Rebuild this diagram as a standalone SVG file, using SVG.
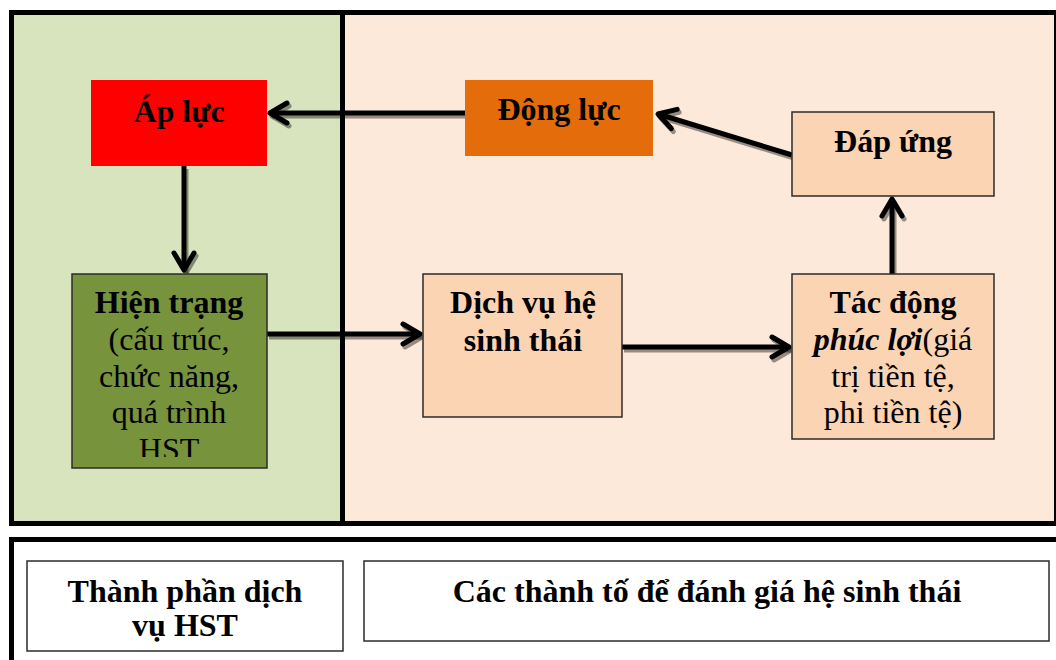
<svg xmlns="http://www.w3.org/2000/svg" width="1056" height="660" viewBox="0 0 1056 660">
<style>
.t{font-family:"Liberation Serif","Times New Roman",serif;font-size:32px;fill:#000;text-anchor:middle}
.b{font-weight:bold}
.node{stroke:#2b2b2b;stroke-width:1.5}
.cn{fill:none;stroke:#000;stroke-width:5;stroke-linecap:butt}
.sh{fill:none;stroke:#000;stroke-opacity:0.4;stroke-width:5}
</style>
<defs>
<marker id="ah" markerUnits="userSpaceOnUse" viewBox="-22 -14 26 28" markerWidth="26" markerHeight="28" refX="0" refY="0" orient="auto" overflow="visible">
<path d="M-17,-10 L0,0 L-17,10" fill="none" stroke="#000" stroke-width="5" stroke-linecap="round" stroke-linejoin="round"/>
</marker>
<marker id="ahs" markerUnits="userSpaceOnUse" viewBox="-22 -14 26 28" markerWidth="26" markerHeight="28" refX="0" refY="0" orient="auto" overflow="visible">
<path d="M-17,-10 L0,0 L-17,10" fill="none" stroke="#000" stroke-opacity="0.4" stroke-width="5" stroke-linecap="round" stroke-linejoin="round"/>
</marker>
<clipPath id="clipHT"><rect x="72" y="274" width="195" height="183"/></clipPath>
</defs>
<rect width="1056" height="660" fill="#fff"/>
<g id="panels">
<rect x="11.5" y="12.5" width="331" height="511" fill="#D7E4BD"/>
<rect x="342.5" y="12.5" width="714" height="511" fill="#FDE9D9"/>
<rect x="11.5" y="12.5" width="1045" height="511" fill="none" stroke="#000" stroke-width="5"/>
<line x1="342.5" y1="12" x2="342.5" y2="524" stroke="#000" stroke-width="5"/>
<rect x="11.5" y="539.5" width="1050" height="130" fill="#fff" stroke="#000" stroke-width="5"/>
</g>
<g id="connectors">
<g transform="translate(2,3)">
<path class="sh" d="M465,113 L270,113" marker-end="url(#ahs)"/>
<path class="sh" d="M184,166 L184,270" marker-end="url(#ahs)"/>
<path class="sh" d="M267,334 L420,334" marker-end="url(#ahs)"/>
<path class="sh" d="M622,347 L789,347" marker-end="url(#ahs)"/>
<path class="sh" d="M892,274 L892,199" marker-end="url(#ahs)"/>
<path class="sh" d="M792,155 L658,114" marker-end="url(#ahs)"/>
</g>
<path class="cn" d="M465,113 L270,113" marker-end="url(#ah)"/>
<path class="cn" d="M184,166 L184,270" marker-end="url(#ah)"/>
<path class="cn" d="M267,334 L420,334" marker-end="url(#ah)"/>
<path class="cn" d="M622,347 L789,347" marker-end="url(#ah)"/>
<path class="cn" d="M892,274 L892,199" marker-end="url(#ah)"/>
<path class="cn" d="M792,155 L658,114" marker-end="url(#ah)"/>
</g>
<g id="ap-luc">
<rect x="91" y="80" width="176" height="86" fill="#FF0000"/>
<text class="t b" x="179" y="122">Áp lực</text>
</g>
<g id="dong-luc">
<rect x="465" y="80" width="188" height="76" fill="#E46C0A"/>
<text class="t b" x="559" y="120">Động lực</text>
</g>
<g id="dap-ung">
<rect class="node" x="792" y="112" width="202" height="84" fill="#FBD4B4"/>
<text class="t b" x="893" y="152">Đáp ứng</text>
</g>
<g id="hien-trang">
<rect class="node" x="72" y="274" width="195" height="194" fill="#77933C"/>
<g clip-path="url(#clipHT)">
<text class="t b" x="169" y="313">Hiện trạng</text>
<text class="t" x="169" y="350">(cấu trúc,</text>
<text class="t" x="169" y="387">chức năng,</text>
<text class="t" x="169" y="423">quá trình</text>
<text class="t" x="169" y="460">HST</text>
</g>
</g>
<g id="dich-vu">
<rect class="node" x="423" y="274" width="199" height="143" fill="#FBD4B4"/>
<text class="t b" x="523" y="313">Dịch vụ hệ</text>
<text class="t b" x="523" y="351">sinh thái</text>
</g>
<g id="tac-dong">
<rect class="node" x="792" y="274" width="202" height="165" fill="#FBD4B4"/>
<text class="t b" x="893" y="313">Tác động</text>
<text class="t" x="893" y="350"><tspan font-weight="bold" font-style="italic">phúc lợi</tspan>(giá</text>
<text class="t" x="893" y="387">trị tiền tệ,</text>
<text class="t" x="893" y="423">phi tiền tệ)</text>
</g>
<g id="thanh-phan">
<rect class="node" x="27" y="561" width="316" height="90" fill="#fff"/>
<text class="t b" x="185" y="602">Thành phần dịch</text>
<text class="t b" x="185" y="636">vụ HST</text>
</g>
<g id="cac-thanh-to">
<rect class="node" x="364" y="561" width="685" height="80" fill="#fff"/>
<text class="t b" x="707" y="602">Các thành tố để đánh giá hệ sinh thái</text>
</g>
</svg>
